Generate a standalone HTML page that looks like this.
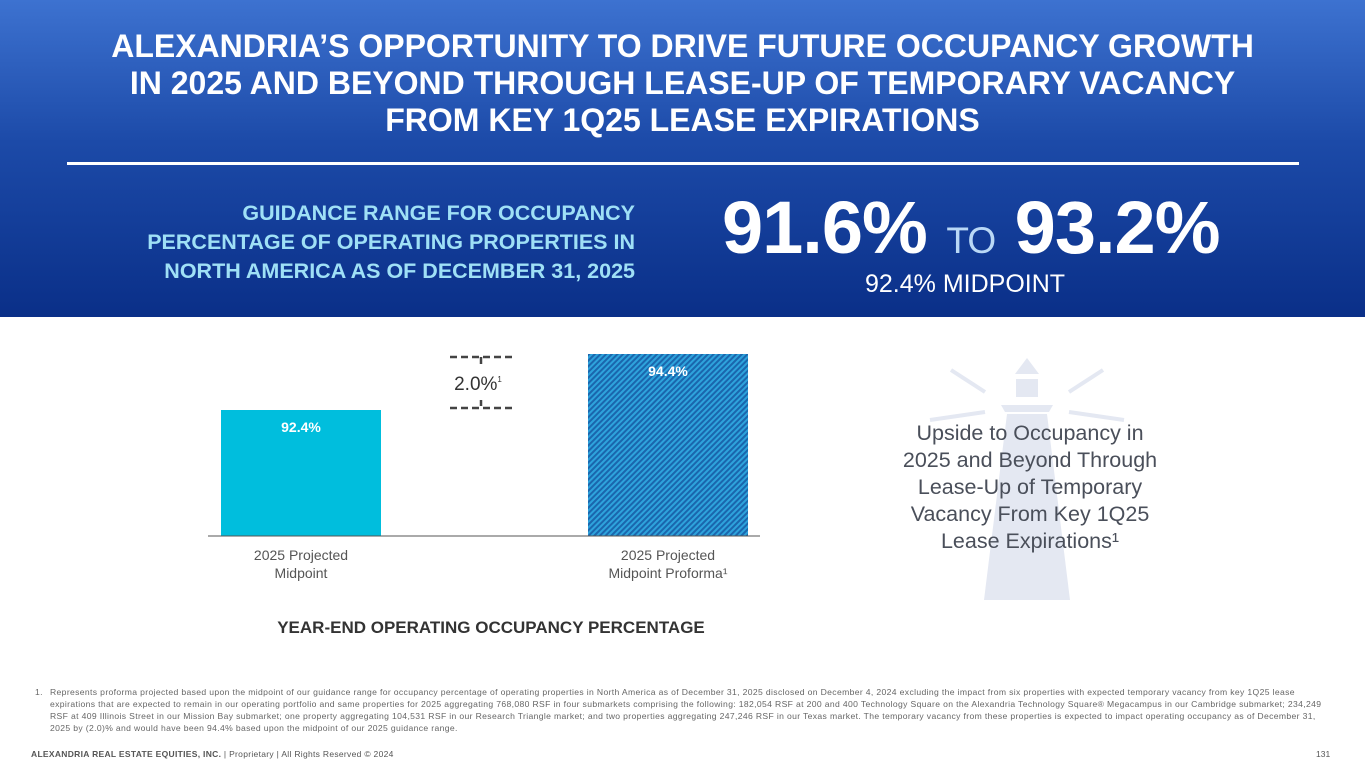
<!DOCTYPE html>
<html><head><meta charset="utf-8"><style>
body{margin:0;width:1365px;height:768px;overflow:hidden;background:#fff;font-family:"Liberation Sans",sans-serif;position:relative}
.hdr{position:absolute;left:0;top:0;width:1365px;height:317px;background:linear-gradient(#3d72d0,#1c4aa8 45%,#0a2f88)}
.t{position:absolute;left:0;width:1365px;top:28px;text-align:center;color:#fff;font-weight:bold;font-size:32px;line-height:37px;letter-spacing:0px}
.rule{position:absolute;left:67px;top:162px;width:1232px;height:3px;background:#fff}
.g{position:absolute;right:730px;top:199px;text-align:right;color:#9fe0f6;font-weight:bold;font-size:21.5px;line-height:29px;letter-spacing:0px}
.big{position:absolute;left:722px;top:185px;color:#fff;font-weight:bold;font-size:74px;letter-spacing:-1px}
.big span{font-weight:normal;font-size:37px;color:#b9d8f6}
.mid{position:absolute;left:865px;top:270px;color:#fff;font-size:25px}
.xl{position:absolute;width:200px;text-align:center;color:#555;font-size:14px;line-height:18px}
.ft{position:absolute;left:50px;top:686px;width:1272px;color:#666;font-size:8.6px;line-height:12px;letter-spacing:0.35px}
.bf{position:absolute;left:31px;top:749px;color:#555;font-size:8.5px;letter-spacing:0.3px}
.side{position:absolute;left:860px;top:420px;width:340px;text-align:center;color:#4a4f5a;font-size:21.5px;line-height:27px}
</style></head><body>
<div class="hdr"></div>
<div class="t">ALEXANDRIA’S OPPORTUNITY TO DRIVE FUTURE OCCUPANCY GROWTH<br>IN 2025 AND BEYOND THROUGH LEASE-UP OF TEMPORARY VACANCY<br>FROM KEY 1Q25 LEASE EXPIRATIONS</div>
<div class="rule"></div>
<div class="g">GUIDANCE RANGE FOR OCCUPANCY<br>PERCENTAGE OF OPERATING PROPERTIES IN<br>NORTH AMERICA AS OF DECEMBER 31, 2025</div>
<div class="big">91.6% <span>TO</span> 93.2%</div>
<div class="mid">92.4% MIDPOINT</div>

<svg style="position:absolute;left:0;top:0" width="1365" height="768">
<defs><pattern id="hatch" width="4" height="4" patternUnits="userSpaceOnUse" patternTransform="rotate(45)"><rect width="4" height="4" fill="#1a66ad"/><rect width="2" height="4" fill="#2ea3dc"/></pattern></defs>
<g fill="#e4e8f2" stroke="none">
<polygon points="1027,358 1015,374 1039,374"/><rect x="1016" y="379" width="22" height="18"/>
<polygon points="1001,405 1053,405 1049,412 1005,412"/><polygon points="1007,414 1047,414 1070,600 984,600"/>
<g stroke="#e4e8f2" stroke-width="4"><line x1="951" y1="370" x2="985" y2="392"/><line x1="1103" y1="370" x2="1069" y2="392"/><line x1="930" y1="420" x2="985" y2="412"/><line x1="1124" y1="420" x2="1069" y2="412"/></g>
</g>
<g id="bars"></g>
<line x1="208" y1="536" x2="760" y2="536" stroke="#555" stroke-width="1"/>
<g stroke="#444" stroke-width="2.5" stroke-dasharray="7,4" fill="none">
<line x1="450" y1="357" x2="515" y2="357"/><line x1="450" y1="408" x2="515" y2="408"/></g>
<line x1="481" y1="357" x2="481" y2="364" stroke="#444" stroke-width="2.5"/><line x1="481" y1="400" x2="481" y2="406" stroke="#444" stroke-width="2.5"/>
<text x="478" y="390" text-anchor="middle" font-size="19" fill="#333" font-family="Liberation Sans">2.0%<tspan font-size="8" dy="-8">1</tspan></text>
<text x="491" y="633" text-anchor="middle" font-size="17" font-weight="bold" fill="#333" font-family="Liberation Sans">YEAR-END OPERATING OCCUPANCY PERCENTAGE</text>
</svg>
<div class="xl" style="left:201px;top:546px">2025 Projected<br>Midpoint</div>
<div class="xl" style="left:568px;top:546px">2025 Projected<br>Midpoint Proforma¹</div>
<div class="side">Upside to Occupancy in<br>2025 and Beyond Through<br>Lease-Up of Temporary<br>Vacancy From Key 1Q25<br>Lease Expirations¹</div>
<div class="ft"><span style="position:absolute;left:-15px">1.</span>Represents proforma projected based upon the midpoint of our guidance range for occupancy percentage of operating properties in North America as of December 31, 2025 disclosed on December 4, 2024 excluding the impact from six properties with expected temporary vacancy from key 1Q25 lease expirations that are expected to remain in our operating portfolio and same properties for 2025 aggregating 768,080 RSF in four submarkets comprising the following: 182,054 RSF at 200 and 400 Technology Square on the Alexandria Technology Square® Megacampus in our Cambridge submarket; 234,249 RSF at 409 Illinois Street in our Mission Bay submarket; one property aggregating 104,531 RSF in our Research Triangle market; and two properties aggregating 247,246 RSF in our Texas market. The temporary vacancy from these properties is expected to impact operating occupancy as of December 31, 2025 by (2.0)% and would have been 94.4% based upon the midpoint of our 2025 guidance range.</div>
<div class="bf"><b>ALEXANDRIA REAL ESTATE EQUITIES, INC.</b> | Proprietary | All Rights Reserved © 2024</div>
<div style="position:absolute;left:1316px;top:749px;font-size:8.5px;color:#555">131</div>
<script>
const categories=["2025 Projected Midpoint","2025 Projected Midpoint Proforma"];
const values=[92.4,94.4];
const labels=["92.4%","94.4%"];
const fills=["#00bedd","url(#hatch)"];
const y=v=>536-(v-87.9)*28;
const xs=i=>221+i*367;
const g=document.getElementById('bars');
const NS="http://www.w3.org/2000/svg";
values.forEach((v,i)=>{
 const r=document.createElementNS(NS,'rect');
 r.setAttribute('x',xs(i));r.setAttribute('y',y(v));r.setAttribute('width',160);r.setAttribute('height',536-y(v));r.setAttribute('fill',fills[i]);
 
 
 g.appendChild(r);
 const t=document.createElementNS(NS,'text');
 t.setAttribute('x',xs(i)+80);t.setAttribute('y',y(v)+22);t.setAttribute('text-anchor','middle');t.setAttribute('fill','#fff');t.setAttribute('font-size','14');t.setAttribute('font-weight','bold');t.setAttribute('font-family','Liberation Sans');
 t.textContent=labels[i];
 
 
 g.appendChild(t);
});
</script>
</body></html>
